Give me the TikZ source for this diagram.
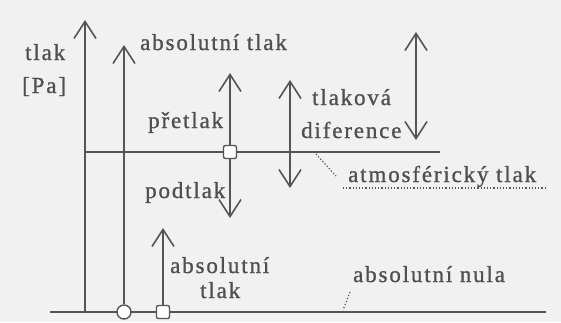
\documentclass[tikz,border=0pt]{standalone}
\usepackage{fontspec}
\setmainfont[LetterSpace=8,FakeBold=1]{Liberation Serif}
\usetikzlibrary{arrows.meta}
\definecolor{ink}{HTML}{555555}
\definecolor{tink}{HTML}{505050}
\definecolor{paper}{HTML}{F1F1F1}
\tikzset{
  ln/.style={draw=ink, line width=1.6pt},
  arr/.style={ln, -{Straight Barb[length=17pt,width=22pt,line width=1.6pt]}},
  darr/.style={ln, {Straight Barb[length=17pt,width=22pt,line width=1.6pt]}-{Straight Barb[length=17pt,width=22pt,line width=1.6pt]}},
  lbl/.style={inner sep=0pt, anchor=base west, text=tink, font=\fontsize{23}{25}\selectfont},
  ring/.style={circle, draw=ink, fill=white, line width=1.4pt, minimum size=14pt, inner sep=0pt},
  sq/.style={rectangle, rounded corners=2pt, draw=ink, fill=white, line width=1.4pt, minimum size=13pt, inner sep=0pt},
  lead/.style={draw=ink, line width=1.2pt, dotted},
}
\begin{document}
\begin{tikzpicture}[x=1pt,y=-1pt]
\fill[paper] (0,0) rectangle (561,322);
\useasboundingbox (0,0) rectangle (561,322);
% coordinates
\coordinate (zl) at (50,312);
\coordinate (zr) at (546,312);
\coordinate (axb) at (85,312);
\coordinate (axt) at (85,20);
\coordinate (a1t) at (124,45);
\coordinate (atl) at (85,152);
\coordinate (atr) at (440,152);
\coordinate (pt) at (230,73);
\coordinate (pb) at (230,218);
\coordinate (a2t) at (163,228);
\coordinate (d1t) at (290,80);
\coordinate (d1b) at (290,188);
\coordinate (d2t) at (416,32);
\coordinate (d2b) at (416,140);
% lines
\draw[ln] (zl) -- (zr);
\draw[ln] (atl) -- (atr);
\draw[arr] (axb) -- (axt);
\node[ring] (c1) at (124,312) {};
\node[sq] (s2) at (163,312) {};
\node[sq] (s1) at (230,152) {};
\draw[arr] (c1) -- (a1t);
\draw[arr] (s2) -- (a2t);
\draw[arr] (s1) -- (pt);
\draw[arr] (s1) -- (pb);
\draw[darr] (d1t) -- (d1b);
\draw[darr] (d2t) -- (d2b);
% labels
\node[lbl] (l1) at (25,60) {tlak};
\node[lbl] (l2) at (22,93) {[Pa]};
\node[lbl] (l3) at (140,50) {absolutní tlak};
\node[lbl] (l4) at (148,128) {přetlak};
\node[lbl] (l5) at (312,105) {tlaková};
\node[lbl] (l6) at (301,138) {diference};
\node[lbl] (l7) at (145,198) {podtlak};
\node[lbl] (l8) at (170,273) {absolutní};
\node[lbl] (l9) at (200,298) {tlak};
\node[lbl] (l10) at (348,182) {atmosférický tlak};
\node[lbl] (l11) at (353,282) {absolutní nula};
% dotted underline and leaders
\coordinate (u1) at (343,188);
\coordinate (u2) at (546,188);
\draw[lead] (u1) -- (u2);
\coordinate (q1) at (316,154);
\coordinate (q2) at (336,176);
\draw[lead] (q1) -- (q2);
\coordinate (r1) at (350,292);
\coordinate (r2) at (343,310);
\draw[lead] (r1) -- (r2);
\end{tikzpicture}
\end{document}
